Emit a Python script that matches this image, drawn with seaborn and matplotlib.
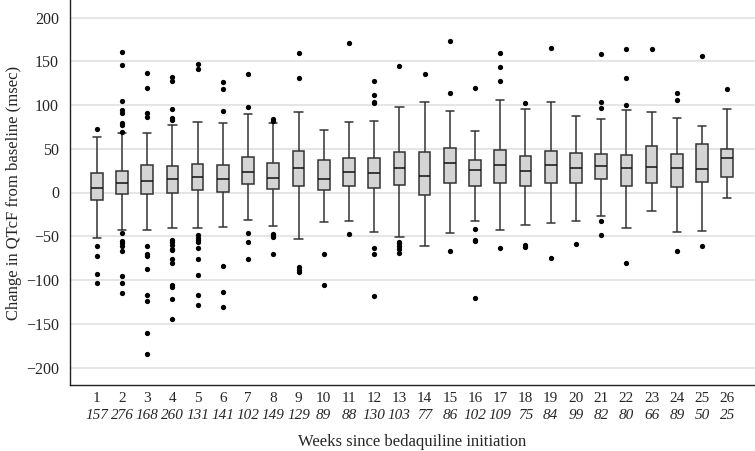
import pandas as pd
import matplotlib.pyplot as plt
import seaborn as sns

# Week labels and number of patients with an ECG that week
weeks = [str(w) for w in range(1, 27)]
n_patients = [157, 276, 168, 260, 131, 141, 102, 149, 129, 89, 88, 130, 103,
              77, 86, 102, 109, 75, 84, 99, 82, 80, 66, 89, 50, 25]

# Box summaries (msec)
whisker_low = [-52, -43, -43, -41, -41, -39, -31, -38, -53, -34, -33, -45, -51,
               -61, -46, -32, -43, -37, -35, -33, -27, -41, -21, -45, -44, -6]
q1 = [-8, -2, -2, -1, 3, 1, 10, 4, 8, 3, 8, 5, 9,
      -3, 11, 8, 11, 7, 11, 11, 16, 8, 11, 6, 12, 18]
median = [5, 11, 13, 15, 18, 15, 23, 17, 28, 16, 23, 22, 28,
          19, 34, 26, 31, 25, 31, 28, 30, 28, 29, 28, 27, 39]
q3 = [22, 25, 31, 30, 33, 31, 41, 34, 47, 37, 40, 40, 46,
      46, 51, 37, 49, 42, 48, 45, 44, 43, 53, 44, 56, 50]
whisker_high = [64, 68, 68, 77, 81, 80, 90, 80, 92, 72, 81, 82, 98,
                104, 93, 70, 106, 95, 103, 88, 84, 94, 92, 85, 76, 96]

# Outliers per week
outliers = [
    [73, -61, -72, -93, -103],
    [161, 146, 105, 94, 91, 80, 77, 69, -46, -55, -58, -61, -67, -95, -103, -115],
    [137, 119, 91, 86, -61, -70, -73, -87, -117, -124, -161, -185],
    [132, 127, 95, 85, 83, -54, -57, -60, -64, -66, -76, -80, -106, -108, -122, -144],
    [147, 141, -49, -52, -54, -56, -63, -76, -94, -117, -128],
    [126, 118, 93, -84, -114, -131],
    [135, 98, -46, -57, -76],
    [84, 82, -47, -49, -51, -70],
    [159, 131, -85, -88, -91],
    [-70, -106],
    [171, -47],
    [128, 111, 104, 102, -63, -70, -118],
    [145, -56, -58, -61, -64, -69],
    [135],
    [173, 114, -67],
    [120, -42, -54, -55, -120],
    [159, 144, 128, -63],
    [102, -60, -62],
    [165, -75],
    [-59],
    [158, 104, 97, -33, -49],
    [164, 131, 100, -80],
    [164],
    [114, 106, -67],
    [156, -61],
    [118],
]

# five points per week reproduce the box exactly when whis=(0, 100)
box_rows = []
for i, w in enumerate(weeks):
    for v in [whisker_low[i], q1[i], median[i], q3[i], whisker_high[i]]:
        box_rows.append({"week": w, "value": v})
box_df = pd.DataFrame(box_rows)

flier_df = pd.DataFrame([{"week": w, "value": v}
                         for w, vals in zip(weeks, outliers) for v in vals])

sns.set_style("white")
plt.rcParams['font.family'] = ['Liberation Serif', 'DejaVu Serif']

fig = plt.figure(figsize=(7.55, 4.51), dpi=100)
ax = fig.add_axes([70 / 755, 66 / 451, 685 / 755, 385 / 451])

ax.grid(True, axis='y', color='#e3e3e3', linewidth=1.3)
ax.set_axisbelow(True)

sns.boxplot(data=box_df, x="week", y="value", order=weeks, whis=(0, 100),
            showfliers=False, color='#d4d4d4', linecolor='#333333',
            linewidth=1.1, width=0.46, saturation=1, ax=ax,
            capwidths=0.33, medianprops={'color': '#111111'})
sns.stripplot(data=flier_df, x="week", y="value", order=weeks, jitter=False,
              color='black', size=3.8, ax=ax, zorder=3)

ax.set_xlim(-1.06, 26.1)
ax.set_ylim(-220, 220)
ax.set_yticks(range(-200, 201, 50))
ax.set_yticklabels([str(t).replace('-', '\u2212') for t in range(-200, 201, 50)])

for side in ['top', 'right']:
    ax.spines[side].set_visible(False)
for side in ['left', 'bottom']:
    ax.spines[side].set_color('#222222')
    ax.spines[side].set_linewidth(1.0)

ax.tick_params(axis='y', length=4, color='#aaaaaa', pad=4, labelsize=11.5)
ax.tick_params(axis='x', length=0, pad=5, labelsize=11)

# patient counts, italic, under the week numbers
for i, n in enumerate(n_patients):
    ax.text(i, -0.08, str(n), transform=ax.get_xaxis_transform(),
            ha='center', va='center', fontsize=11, style='italic')

ax.set_xlabel('Weeks since bedaquiline initiation', fontsize=12)
ax.xaxis.set_label_coords(0.5, -0.128)
ax.set_ylabel('Change in QTcF from baseline (msec)', fontsize=12)
ax.yaxis.set_label_coords(-0.07, 0.5)

plt.savefig('out.png', dpi=100)
